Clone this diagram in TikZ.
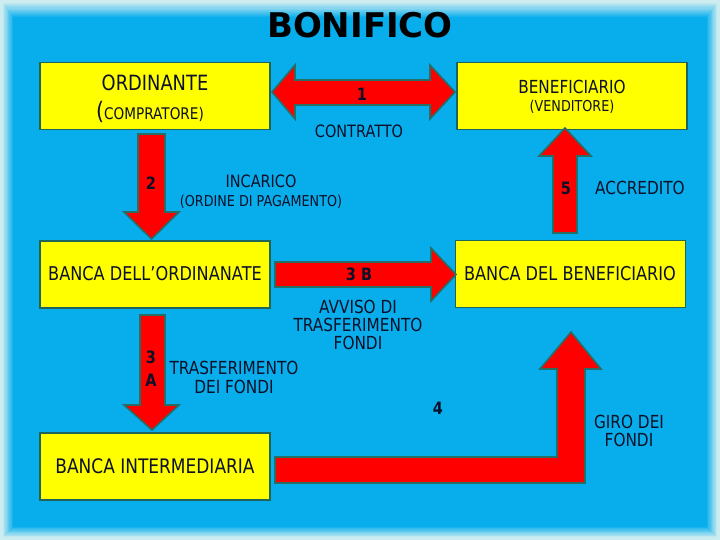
\documentclass[tikz,border=0pt]{standalone}
\usepackage{fontspec}
\setmainfont{DejaVu Sans}
\newfontfamily\lab[FakeStretch=0.85]{DejaVu Sans}
\usetikzlibrary{calc}
\definecolor{bgblue}{RGB}{8,174,236}
\definecolor{edgec}{RGB}{205,236,240}
\definecolor{boxy}{RGB}{255,255,0}
\definecolor{boxedge}{RGB}{30,100,90}
\definecolor{arredge}{RGB}{40,110,100}
\definecolor{txt}{RGB}{12,16,40}
\definecolor{redf}{RGB}{255,0,0}
\begin{document}
\begin{tikzpicture}[x=1pt,y=-1pt,
  box/.style={draw=boxedge, line width=1.8pt, fill=boxy, minimum width=230pt, minimum height=67pt, inner sep=0pt},
  blk/.style={fill=redf, draw=arredge, line width=1.6pt, line join=miter},
  lbl/.style={text=txt, inner sep=0pt, align=center, font=\lab\fontsize{19}{18}\selectfont},
  slbl/.style={text=txt, inner sep=0pt, align=center, font=\lab\fontsize{16}{16}\selectfont},
  num/.style={text=txt, inner sep=0pt, align=center, font=\lab\bfseries\fontsize{17}{23}\selectfont}]
\useasboundingbox (0,0) rectangle (720,540);
% background with soft edge
\fill[edgec] (0,0) rectangle (720,540);
\foreach \i in {0,...,14} {
  \pgfmathtruncatemacro{\p}{\i*100/14}
  \fill[bgblue!\p!edgec] (2+\i*0.8,2+\i*1.1) rectangle (718-\i*0.8,538-\i*0.8);
}
% title
\node[text=black, font=\bfseries\fontsize{34}{34}\selectfont, inner sep=0pt] (title) at (360,25) {BONIFICO};
% boxes
\node[box] (ord) at (155,96) {};
\node[box] (ben) at (572,96) {};
\node[box] (bo) at (155,274.5) {};
\node[box] (bb) at (570.5,274) {};
\node[box] (bi) at (155,466.5) {};
% box texts
\node[lbl, font=\lab\fontsize{21}{21}\selectfont] (ordt) at (155,83) {ORDINANTE};
\node[lbl] (ordc) at (150,112) {{\fontsize{24}{24}\selectfont(}\fontsize{16}{16}\selectfont COMPRATORE)};
\node[lbl, font=\lab\fontsize{18}{18}\selectfont] (bent) at (572,87) {BENEFICIARIO};
\node[slbl, font=\lab\fontsize{15}{15}\selectfont] (benc) at (572,107) {(VENDITORE)};
\node[lbl] (bot) at (155,274) {BANCA DELL’ORDINANATE};
\node[lbl] (bbt) at (570,274) {BANCA DEL BENEFICIARIO};
\node[lbl, font=\lab\fontsize{20}{20}\selectfont] (bit) at (155,466) {BANCA INTERMEDIARIA};
% arrow 1 (double)
\draw[blk] (272,92) -- (295,65) -- (295,80) -- (430,80) -- (430,65) -- (455,92)
  -- (430,119) -- (430,105) -- (295,105) -- (295,119) -- cycle;
% arrow 2
\draw[blk] (138,134) -- (165,134) -- (165,212) -- (179,212) -- (151.5,239)
  -- (124,212) -- (138,212) -- cycle;
% arrow 5
\draw[blk] (553,233) -- (553,156) -- (539,156) -- (565,128) -- (591,156)
  -- (577,156) -- (577,233) -- cycle;
% arrow 3B
\draw[blk] (275,262) -- (431,262) -- (431,248) -- (456,274.5) -- (431,301)
  -- (431,287) -- (275,287) -- cycle;
% arrow 3A
\draw[blk] (140,315) -- (165,315) -- (165,405) -- (179,405) -- (152,430)
  -- (124,405) -- (140,405) -- cycle;
% arrow 4
\draw[blk] (275,457) -- (557,457) -- (557,369) -- (540,369) -- (571,332)
  -- (601,369) -- (585,369) -- (585,483) -- (275,483) -- cycle;
% labels
\node[num] (n1) at (362,94) {1};
\node[slbl, font=\lab\fontsize{17}{17}\selectfont] (contr) at (359,131) {CONTRATTO};
\node[num] (n2) at (151,183) {2};
\node[slbl, font=\lab\fontsize{17}{19}\selectfont] (inc) at (261,191.5) {INCARICO\\{\fontsize{15}{15}\selectfont(ORDINE DI PAGAMENTO)}};
\node[num] (n5) at (566,188) {5};
\node[lbl, font=\lab\fontsize{18}{18}\selectfont] (accr) at (640,188) {ACCREDITO};
\node[num] (n3b) at (359,274) {3 B};
\node[lbl, font=\lab\fontsize{18}{18}\selectfont] (avv) at (358,325) {AVVISO DI\\TRASFERIMENTO\\FONDI};
\node[num] (n3a) at (151,368.5) {3\\A};
\node[lbl, font=\lab\fontsize{18}{19}\selectfont] (trf) at (234,377.5) {TRASFERIMENTO\\DEI FONDI};
\node[num] (n4) at (438,408) {4};
\node[lbl, font=\lab\fontsize{18}{18}\selectfont] (giro) at (629,431) {GIRO DEI\\FONDI};
\end{tikzpicture}
\end{document}
